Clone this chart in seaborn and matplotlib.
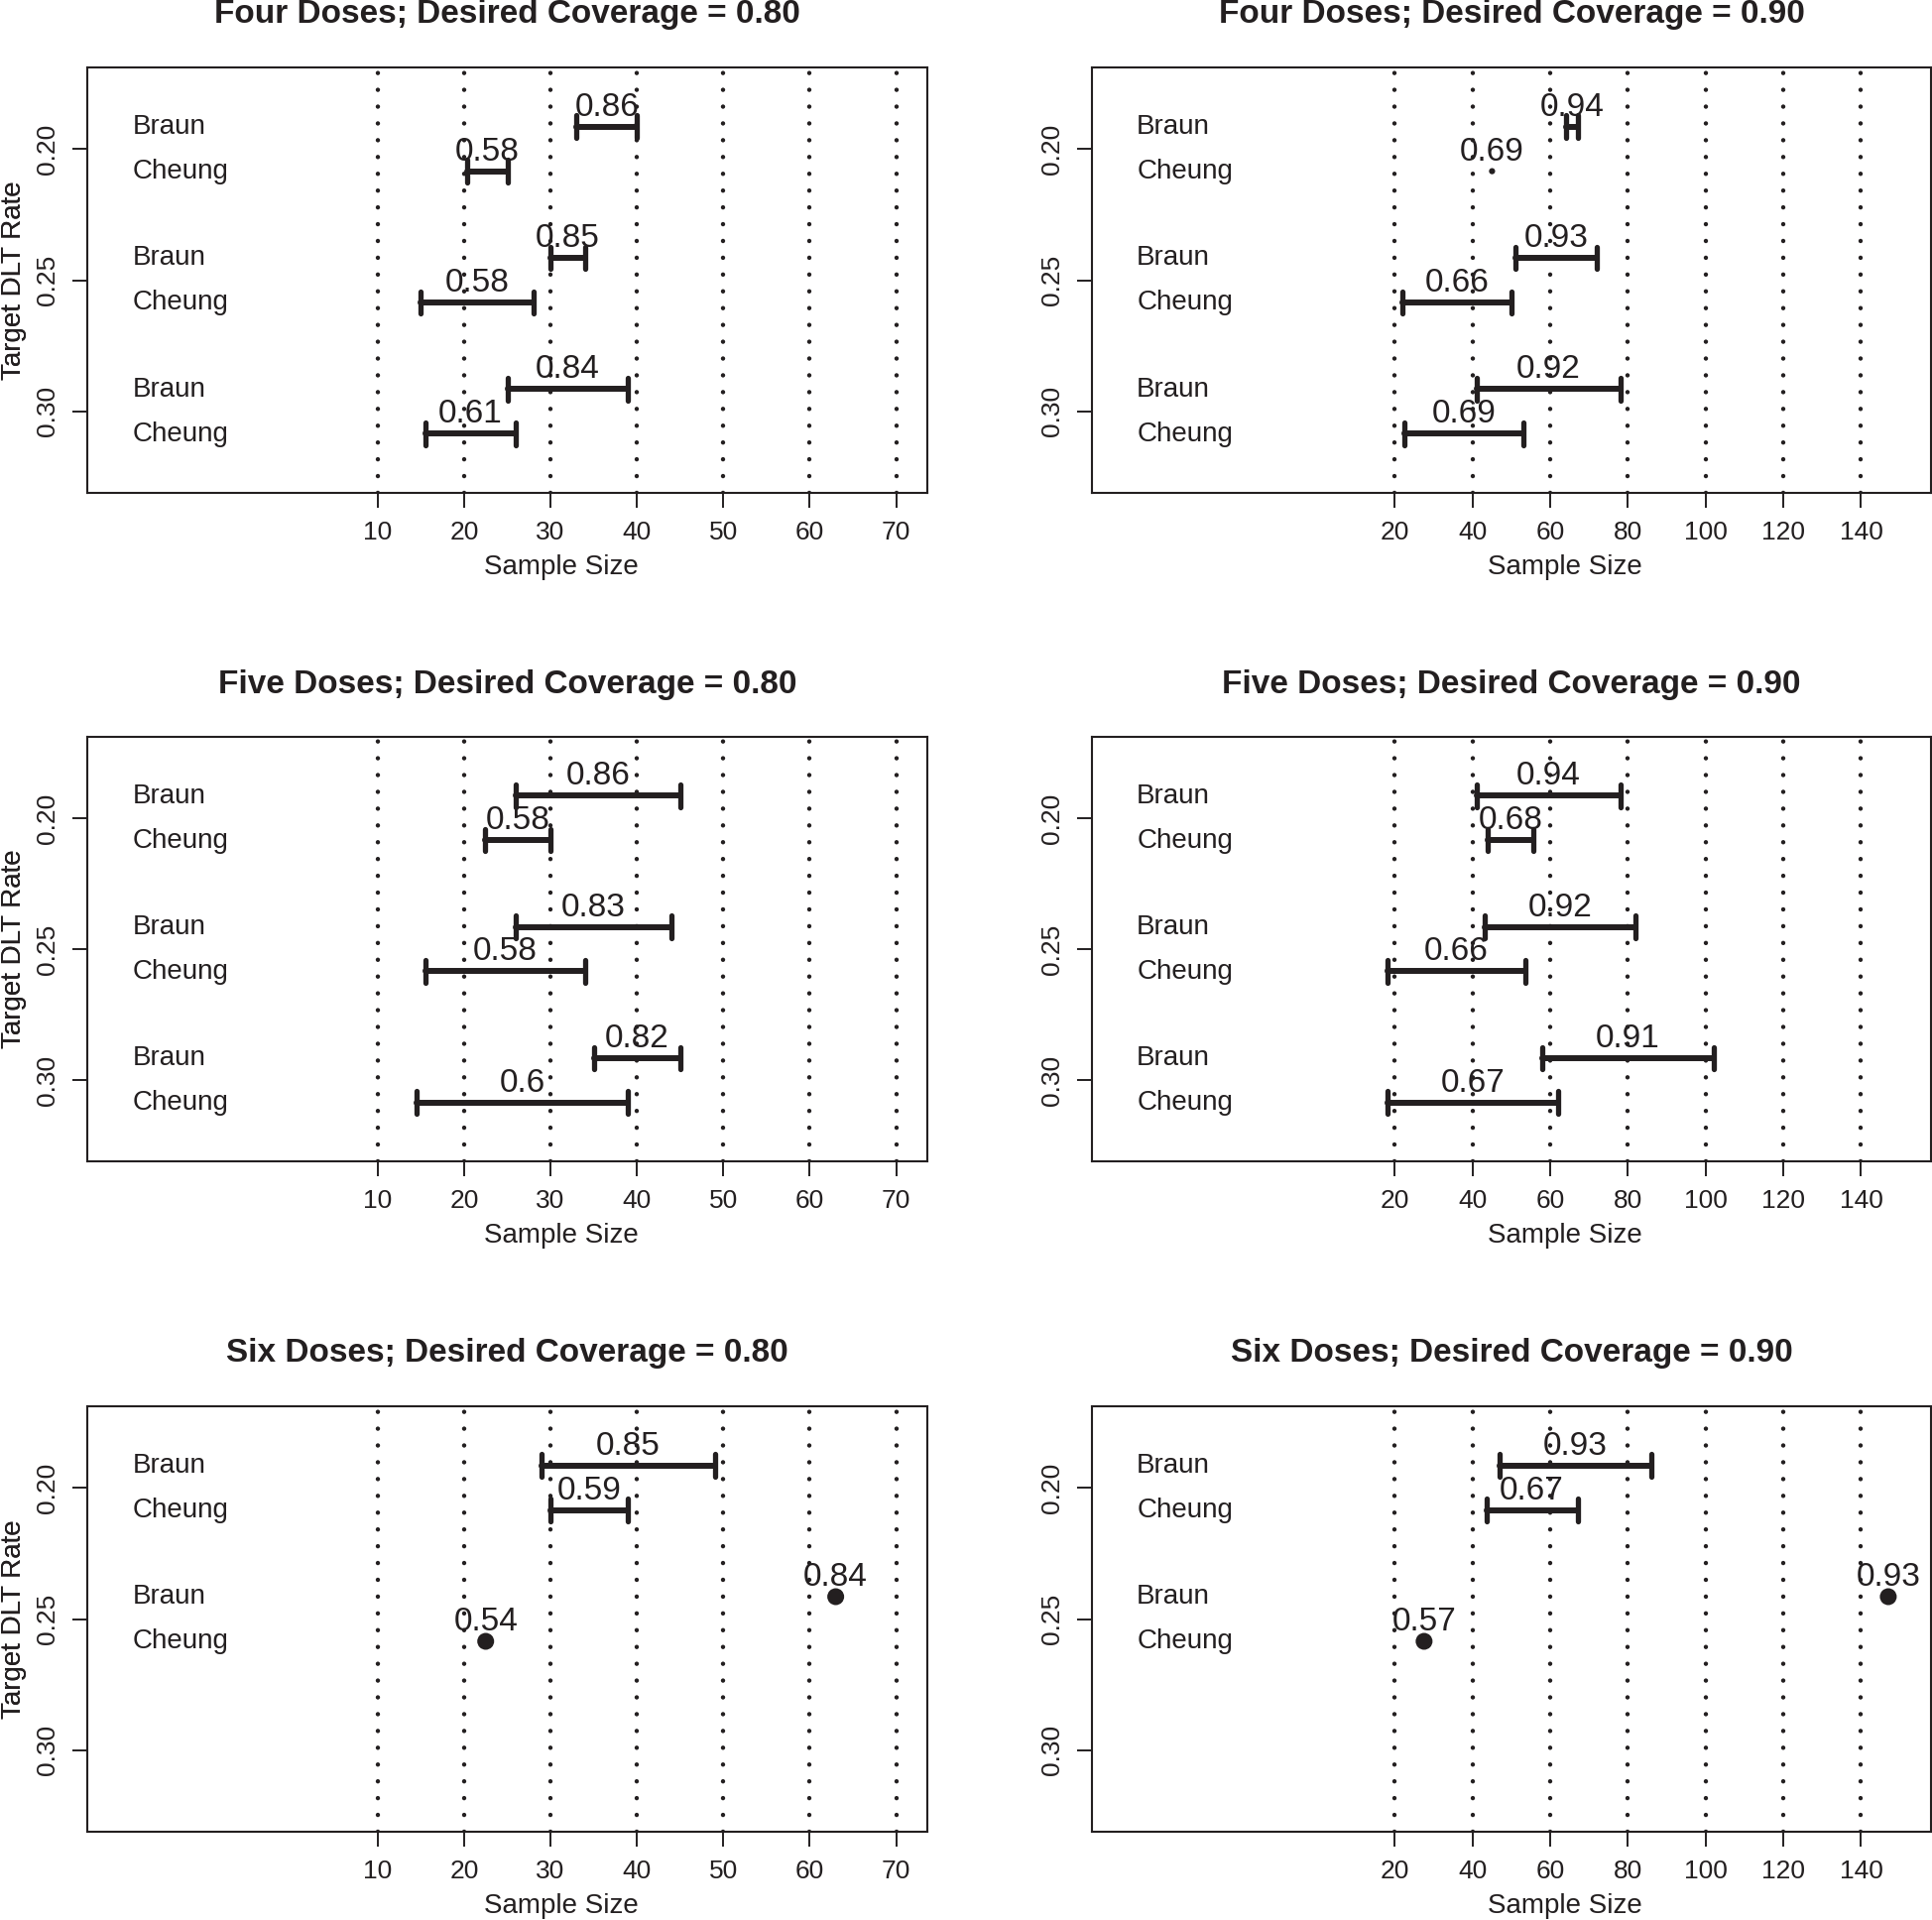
import numpy as np
import pandas as pd
import matplotlib
matplotlib.use("Agg")
import matplotlib.pyplot as plt
import seaborn as sns

# target DLT rates and the two designs drawn in every panel
rates = [0.20, 0.25, 0.30]
methods = ["Braun", "Cheung"]

titles = [
    "Four Doses; Desired Coverage = 0.80", "Four Doses; Desired Coverage = 0.90",
    "Five Doses; Desired Coverage = 0.80", "Five Doses; Desired Coverage = 0.90",
    "Six Doses; Desired Coverage = 0.80", "Six Doses; Desired Coverage = 0.90",
]

# rows ordered: 0.20 Braun, 0.20 Cheung, 0.25 Braun, 0.25 Cheung, 0.30 Braun, 0.30 Cheung
# lo None = nothing drawn, hi None = single sample size (dot), lo == hi = zero length range
four80_lo = [33, 20.4, 30, 15, 25, 15.5]
four80_hi = [40, 25, 34, 28, 39, 26]
four80_cov = [0.86, 0.58, 0.85, 0.58, 0.84, 0.61]

four90_lo = [64, 45, 51, 22, 41, 22.5]
four90_hi = [67, 45, 72, 50, 78, 53]
four90_cov = [0.94, 0.69, 0.93, 0.66, 0.92, 0.69]

five80_lo = [26, 22.4, 26, 15.5, 35, 14.5]
five80_hi = [45, 30, 44, 34, 45, 39]
five80_cov = [0.86, 0.58, 0.83, 0.58, 0.82, 0.6]

five90_lo = [41, 44, 43, 18, 58, 18]
five90_hi = [78, 55.5, 82, 53.5, 102, 62]
five90_cov = [0.94, 0.68, 0.92, 0.66, 0.91, 0.67]

six80_lo = [29, 30, 63, 22.5, None, None]
six80_hi = [49, 39, None, None, None, None]
six80_cov = [0.85, 0.59, 0.84, 0.54, None, None]

six90_lo = [47, 43.5, 147, 27.5, None, None]
six90_hi = [86, 67, None, None, None, None]
six90_cov = [0.93, 0.67, 0.93, 0.57, None, None]

panels = [
    (four80_lo, four80_hi, four80_cov), (four90_lo, four90_hi, four90_cov),
    (five80_lo, five80_hi, five80_cov), (five90_lo, five90_hi, five90_cov),
    (six80_lo, six80_hi, six80_cov), (six90_lo, six90_hi, six90_cov),
]

ticks_80 = [10, 20, 30, 40, 50, 60, 70]
ticks_90 = [20, 40, 60, 80, 100, 120, 140]

sns.set_theme(style="white")
plt.rcParams["font.family"] = ["Liberation Sans", "DejaVu Sans"]
plt.rcParams["lines.dash_capstyle"] = "round"

INK = "#231f20"
W, H = 1949, 1936
fig = plt.figure(figsize=(W / 100, H / 100), dpi=100)

col_px = [(88, 935), (1101, 1947)]
row_px = [(68, 497), (743, 1171), (1418, 1847)]
off = 0.0085  # vertical offset of Braun/Cheung around each rate

for i, (lo, hi, cov) in enumerate(panels):
    r, c = divmod(i, 2)
    x0, x1 = col_px[c]
    y0, y1 = row_px[r]
    ax = fig.add_axes([x0 / W, 1 - y1 / H, (x1 - x0) / W, (y1 - y0) / H])

    if c == 0:
        xmin, xmax, ticks = -20, 70, ticks_80
    else:
        xmin, xmax, ticks = -50, 150, ticks_90
    pad = 0.04 * (xmax - xmin)
    ax.set_xlim(xmin - pad, xmax + pad)
    ax.set_ylim(0.325 + 0.006, 0.175 - 0.006)

    for t in ticks:
        ax.axvline(t, color=INK, lw=3.2, linestyle=(0, (0.01, 3.8)), zorder=1)

    ys, los, his, covs = [], [], [], []
    for k, rate in enumerate(rates):
        for m, name in enumerate(methods):
            j = 2 * k + m
            if lo[j] is None:
                continue
            y = rate - off if m == 0 else rate + off
            ax.annotate(name, (xmin, y), xytext=(10, 2), textcoords="offset points",
                        ha="left", va="center_baseline", fontsize=20, color=INK)
            ys.append(y)
            los.append(lo[j])
            his.append(hi[j])
            covs.append(cov[j])

    df = pd.DataFrame({"y": ys, "lo": los, "hi": his, "cov": covs})
    ranges = df[df["hi"].notna()].astype({"lo": float, "hi": float})
    bars = ranges[ranges["hi"] > ranges["lo"]]
    zero = ranges[ranges["hi"] == ranges["lo"]]
    dots = df[df["hi"].isna()].astype({"lo": float})

    ax.hlines(bars["y"], bars["lo"], bars["hi"], color=INK, lw=4.3,
              capstyle="round", zorder=3)
    cap = 0.0042
    for _, b in bars.iterrows():
        ax.vlines([b["lo"], b["hi"]], b["y"] - cap, b["y"] + cap, color=INK,
                  lw=3.8, capstyle="round", zorder=3)
    if len(zero):
        sns.scatterplot(data=zero, x="lo", y="y", ax=ax, s=20, color=INK,
                        edgecolor="none", zorder=3, legend=False)
    if len(dots):
        sns.scatterplot(data=dots, x="lo", y="y", ax=ax, s=150, color=INK,
                        edgecolor="none", zorder=3, legend=False)

    for _, row in df.iterrows():
        lo_v = float(row["lo"])
        hi_v = lo_v if pd.isna(row["hi"]) else float(row["hi"])
        ax.text((lo_v + hi_v) / 2, row["y"] - 0.0087, f"{row['cov']:g}",
                ha="center", va="center_baseline", fontsize=24, color=INK, zorder=4)

    ax.set_xticks(ticks)
    ax.set_xticklabels([str(t) for t in ticks])
    ax.set_yticks(rates)
    ax.set_yticklabels(["0.20", "0.25", "0.30"], rotation=90, va="center")
    ax.tick_params(axis="both", direction="out", length=11, width=1.4,
                   labelsize=19, colors=INK, bottom=True, left=True)
    ax.tick_params(axis="x", pad=9)
    ax.tick_params(axis="y", pad=9)
    for s in ax.spines.values():
        s.set_color(INK)
        s.set_linewidth(1.5)

    ax.set_xlabel("Sample Size", fontsize=20, color=INK)
    ax.set_ylabel("Target DLT Rate", fontsize=20, color=INK)
    ax.xaxis.set_label_coords(0.564, -75 / (y1 - y0))
    ax.xaxis.label.set_va("center")
    ax.yaxis.set_label_coords((14 - x0) / (x1 - x0), 0.5)
    ax.yaxis.label.set_va("center")
    ax.set_title(titles[i], fontsize=24, fontweight="bold", color=INK,
                 y=1 + 53 / (y1 - y0), va="center", pad=0)

fig.savefig("out.png", dpi=100)
